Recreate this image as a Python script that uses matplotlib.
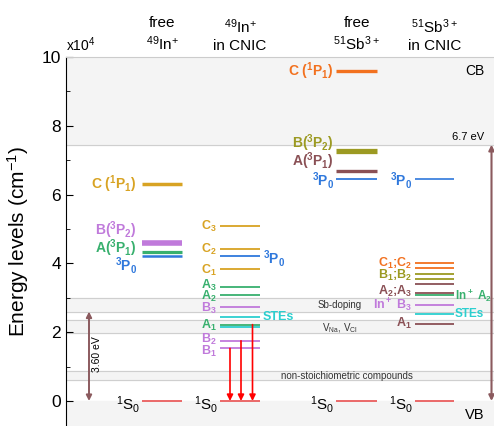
import numpy as np
import matplotlib.pyplot as plt

plt.rcParams['font.family'] = ['Liberation Sans', 'DejaVu Sans']
plt.rcParams['mathtext.default'] = 'regular'

# ---- data (energies in 1e4 cm^-1) ----
in_free_E = [6.31, 4.58, 4.34, 4.22]
in_free_lab = ['C ($^1$P$_1$)', 'B($^3$P$_2$)', 'A($^3$P$_1$)', '$^3$P$_0$']
in_free_lab_y = [6.31, 4.96, 4.45, 3.93]

in_cnic_E = [5.09, 4.42, 4.22, 3.83, 3.32, 3.09, 2.74, 2.43, 2.22, 2.14, 1.75, 1.53]
in_cnic_lab = ['C$_3$', 'C$_2$', '', 'C$_1$', 'A$_3$', 'A$_2$', 'B$_3$', '', 'A$_1$', '', 'B$_2$', 'B$_1$']
in_cnic_lab_y = [5.06, 4.40, 0, 3.80, 3.37, 3.05, 2.70, 0, 2.20, 0, 1.79, 1.45]

sb_free_E = [9.60, 7.26, 6.68, 6.45]
sb_free_lab = ['C ($^1$P$_1$)', 'B($^3$P$_2$)', 'A($^3$P$_1$)', '$^3$P$_0$']
sb_free_lab_y = [9.60, 7.50, 6.96, 6.42]

sb_cnic_E = [6.45, 4.01, 3.86, 3.70, 3.55, 3.41, 3.15, 3.09, 2.78, 2.54, 2.25]
sb_cnic_lab = ['$^3$P$_0$', 'C$_1$;C$_2$', 'B$_1$;B$_2$', 'A$_2$;A$_3$', 'In$^+$ B$_3$', 'A$_1$']
sb_cnic_lab_y = [6.40, 4.00, 3.64, 3.18, 2.79, 2.26]

bands = [(2.59, 2.99), (1.98, 2.35), (0.61, 0.87)]
band_names = ['Sb-doping', 'V$_{Na}$, V$_{Cl}$', 'non-stoichiometric compounds']
band_name_y = [2.79, 2.12, 0.73]
cb_edge = 7.45
emission_from = [1.53, 1.75, 2.22]
gap_in = 2.6
headers = ['free\n$^{49}$In$^{+}$', '$^{49}$In$^{+}$\nin CNIC', 'free\n$^{51}$Sb$^{3+}$', '$^{51}$Sb$^{3+}$\nin CNIC']

# ---- colours ----
gold = '#D8A323'
purple = '#C07ADB'
green = '#38B06E'
blue = '#2F78DC'
orange = '#F2711F'
olive = '#9C9A22'
brown = '#8A5055'
cyan = '#2CCFCF'
red = '#E85050'
arrow_brown = '#8B5A5E'

fig = plt.figure(figsize=(4.94, 4.26), dpi=100)
ax = fig.add_axes([66 / 494, 0, 428 / 494, 369 / 426])
ax.set_xlim(0, 428)
ax.set_ylim(-0.727, 10)

# shaded regions
ax.axhspan(cb_edge, 10, color='#f4f4f4', zorder=0)
ax.axhline(cb_edge, color='#cfcfcf', lw=0.8, zorder=0.5)
ax.axhspan(-0.727, 0, color='#f4f4f4', zorder=0)
for (lo, hi), name, yy, xx in zip(bands, band_names, band_name_y, [274, 274, 281]):
    ax.axhspan(lo, hi, color='#f4f4f4', zorder=0)
    ax.axhline(lo, color='#cfcfcf', lw=0.8, zorder=0.5)
    ax.axhline(hi, color='#cfcfcf', lw=0.8, zorder=0.5)
    ax.text(xx, yy, name, fontsize=7, ha='center', va='center', color='#333333')

# column x-ranges
cols = [(76, 116), (154, 194), (270, 311), (349, 388)]

def level(col, e, c, lw=1.2):
    x0, x1 = cols[col]
    ax.plot([x0, x1], [e, e], color=c, lw=lw, solid_capstyle='butt', zorder=3)

def lab(x, y, s, c, ha='right', fs=9.5):
    ax.text(x, y, s, color=c, fontsize=fs, fontweight='bold', ha=ha, va='center')

# ground states
for i in range(4):
    level(i, 0, red, lw=1.2)
    ax.text(cols[i][0] - 2, -0.1, '$^1$S$_0$', fontsize=11, ha='right', va='center')

# free In+
for e, w, c in zip(in_free_E, [2.5, 4, 2.3, 1.8], [gold, purple, green, blue]):
    level(0, e, c, lw=w)
for s, y, c in zip(in_free_lab, in_free_lab_y, [gold, purple, green, blue]):
    lab(71, y, s, c, fs=10)

# In+ in CNIC
in_cols = [gold, gold, blue, gold, green, green, purple, cyan, green, cyan, purple, purple]
for e, c in zip(in_cnic_E, in_cols):
    level(1, e, c, lw=1.3)
for s, y, c in zip(in_cnic_lab, in_cnic_lab_y, in_cols):
    if s:
        lab(151, y, s, c, fs=9)
lab(197, 4.13, '$^3$P$_0$', blue, ha='left', fs=10)
lab(197, 2.43, 'STEs', cyan, ha='left', fs=9)
for e, xx in zip(emission_from, [164, 175, 186.5]):
    ax.annotate('', xy=(xx, 0), xytext=(xx, e),
                arrowprops=dict(arrowstyle='-|>', color='red', lw=1.2,
                                mutation_scale=9, shrinkA=0, shrinkB=0), zorder=4)

# free Sb3+
for e, w, c in zip(sb_free_E, [2.4, 3.8, 2.4, 1.3], [orange, olive, brown, blue]):
    level(2, e, c, lw=w)
for s, y, c in zip(sb_free_lab, sb_free_lab_y, [orange, olive, brown, blue]):
    lab(268, y, s, c, fs=10)

# Sb3+ in CNIC
sb_cols = [blue, orange, orange, olive, olive, brown, brown, green, purple, cyan, brown]
for e, c in zip(sb_cnic_E, sb_cols):
    level(3, e, c, lw=1.3 if c != blue else 1.2)
for s, y, c in zip(sb_cnic_lab, sb_cnic_lab_y, [blue, orange, olive, brown, purple, brown]):
    lab(346, y, s, c, fs=10 if c == blue else 9)
lab(389, 3.06, 'In$^+$ A$_2$', green, ha='left', fs=8.5)
lab(389, 2.53, 'STEs', cyan, ha='left', fs=8.5)

# gap arrows
ax.annotate('', xy=(23, 0), xytext=(23, gap_in),
            arrowprops=dict(arrowstyle='<|-|>', color=arrow_brown, lw=1.4,
                            mutation_scale=8, shrinkA=0, shrinkB=0))
ax.text(31, 1.37, '3.60 eV', rotation=90, fontsize=7.5, ha='center', va='center')
ax.annotate('', xy=(425.5, 0), xytext=(425.5, cb_edge),
            arrowprops=dict(arrowstyle='<|-|>', color=arrow_brown, lw=1.5,
                            mutation_scale=8, shrinkA=0, shrinkB=0))
ax.text(418, cb_edge + 0.22, '6.7 eV', fontsize=8, ha='right', va='center')
ax.text(418, 9.6, 'CB', fontsize=10, ha='right', va='center')
ax.text(418, -0.4, 'VB', fontsize=10.5, ha='right', va='center')

# headers
for (x0, x1), h in zip(cols, headers):
    ax.text((x0 + x1) / 2, 10.12, h, fontsize=11, ha='center', va='bottom',
            linespacing=1.3)
ax.text(0, 10.08, 'x10$^4$', fontsize=10, ha='left', va='bottom')

# axes styling
ax.set_yticks(np.arange(0, 11, 2))
ax.set_yticks(np.arange(1, 10, 2), minor=True)
ax.tick_params(axis='y', which='major', direction='in', length=5, labelsize=12.5)
ax.tick_params(axis='y', which='minor', direction='in', length=3)
ax.set_xticks([])
ax.spines['top'].set_color('#cccccc')
ax.spines['right'].set_visible(False)
ax.spines['bottom'].set_visible(False)
ax.set_ylabel('Energy levels (cm$^{-1}$)', fontsize=15, labelpad=8)

fig.savefig('out.png', dpi=100)
